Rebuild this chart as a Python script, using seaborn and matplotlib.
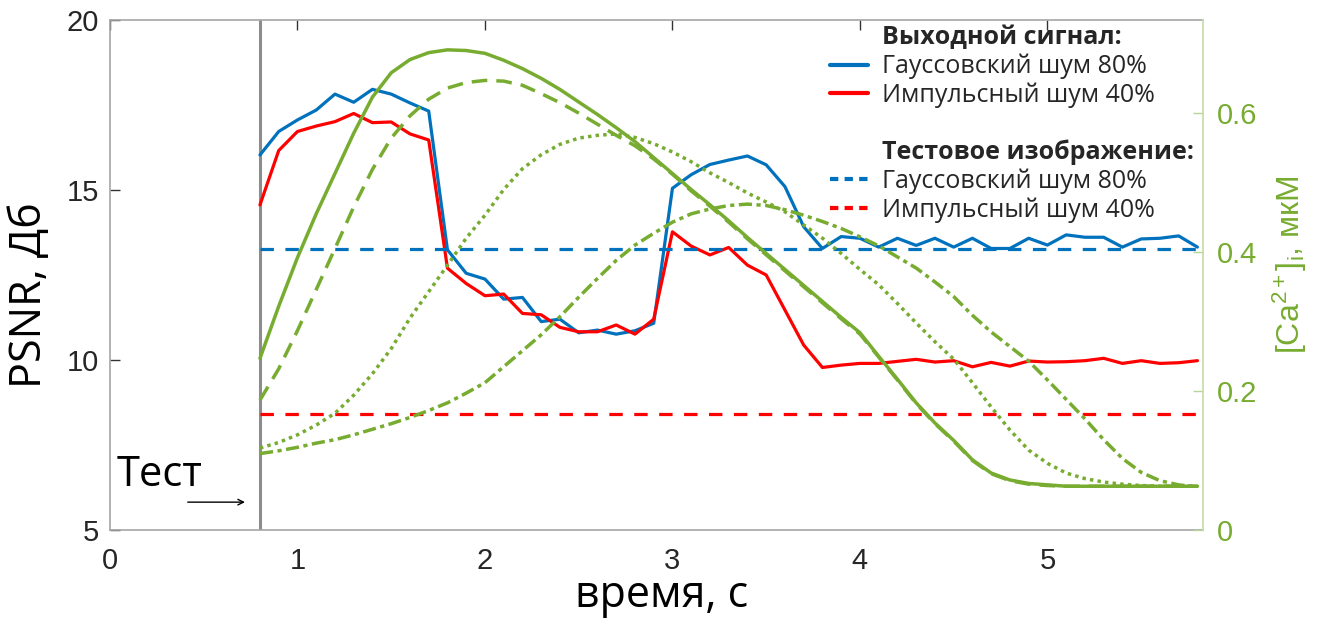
import numpy as np
import pandas as pd
import matplotlib
matplotlib.use("Agg")
import matplotlib.pyplot as plt
import seaborn as sns
from matplotlib.lines import Line2D

# ---------------- data ----------------
time_out = np.round(np.arange(0.8, 5.81, 0.1), 1)
psnr_gauss = [16.03, 16.72, 17.06, 17.35, 17.82, 17.58, 17.96, 17.82, 17.56, 17.32,
              13.24, 12.55, 12.38, 11.79, 11.84, 11.13, 11.20, 10.80, 10.88, 10.76,
              10.86, 11.08, 15.05, 15.45, 15.75, 15.88, 16.00, 15.74, 15.10, 13.92,
              13.28, 13.63, 13.58, 13.32, 13.58, 13.37, 13.58, 13.32, 13.58, 13.28,
              13.28, 13.58, 13.38, 13.68, 13.61, 13.61, 13.32, 13.56, 13.58, 13.65,
              13.32]
psnr_impulse = [14.56, 16.16, 16.72, 16.88, 17.01, 17.25, 16.98, 17.00, 16.65, 16.47,
                12.70, 12.25, 11.89, 11.94, 11.37, 11.33, 10.96, 10.83, 10.83, 11.03,
                10.76, 11.20, 13.77, 13.35, 13.09, 13.31, 12.79, 12.50, 11.47, 10.44,
                9.78, 9.85, 9.90, 9.90, 9.96, 10.02, 9.94, 9.98, 9.80, 9.93,
                9.82, 9.97, 9.94, 9.95, 9.98, 10.05, 9.90, 9.98, 9.90, 9.92,
                9.98]
test_gauss = 13.25
test_impulse = 8.40
test_time = 0.8

time_ca = np.round(np.arange(0.8, 5.81, 0.1), 1)
ca_solid = [0.247, 0.322, 0.392, 0.455, 0.513, 0.571, 0.623, 0.658, 0.677, 0.687,
            0.691, 0.690, 0.686, 0.676, 0.664, 0.650, 0.634, 0.616, 0.598, 0.579,
            0.559, 0.536, 0.513, 0.490, 0.468, 0.445, 0.421, 0.398, 0.375, 0.352,
            0.329, 0.306, 0.284, 0.250, 0.217, 0.183, 0.154, 0.129, 0.101, 0.082,
            0.072, 0.067, 0.065, 0.063, 0.063, 0.063, 0.063, 0.063, 0.063, 0.063,
            0.063]
ca_dashed = [0.187, 0.232, 0.287, 0.346, 0.405, 0.465, 0.519, 0.564, 0.596, 0.620,
             0.636, 0.644, 0.647, 0.646, 0.640, 0.628, 0.615, 0.600, 0.584, 0.568,
             0.553, 0.534, 0.512, 0.488, 0.466, 0.443, 0.419, 0.396, 0.373, 0.350,
             0.327, 0.304, 0.282, 0.249, 0.216, 0.182, 0.153, 0.128, 0.100, 0.081,
             0.071, 0.066, 0.064, 0.063, 0.063, 0.063, 0.063, 0.063, 0.063, 0.063,
             0.063]
ca_dotted = [0.118, 0.126, 0.137, 0.151, 0.168, 0.194, 0.225, 0.261, 0.305, 0.343,
             0.381, 0.420, 0.453, 0.490, 0.520, 0.540, 0.555, 0.564, 0.568, 0.570,
             0.565, 0.556, 0.544, 0.530, 0.514, 0.500, 0.485, 0.472, 0.458, 0.439,
             0.420, 0.398, 0.375, 0.353, 0.326, 0.298, 0.271, 0.246, 0.212, 0.177,
             0.144, 0.115, 0.096, 0.082, 0.074, 0.069, 0.066, 0.064, 0.063, 0.063,
             0.063]
ca_dashdot = [0.110, 0.114, 0.119, 0.125, 0.130, 0.137, 0.145, 0.153, 0.162, 0.172,
              0.183, 0.197, 0.212, 0.235, 0.258, 0.281, 0.307, 0.335, 0.362, 0.388,
              0.410, 0.427, 0.443, 0.455, 0.462, 0.467, 0.469, 0.467, 0.461, 0.453,
              0.444, 0.434, 0.422, 0.409, 0.393, 0.377, 0.357, 0.336, 0.309, 0.285,
              0.264, 0.243, 0.216, 0.188, 0.160, 0.130, 0.103, 0.083, 0.071, 0.065,
              0.062]

x_ticks = [0, 1, 2, 3, 4, 5]
y_ticks = [5, 10, 15, 20]
y2_ticks = [0, 0.2, 0.4, 0.6]
y2_ticklabels = ['0', '0.2', '0.4', '0.6']

# ---------------- style ----------------
sns.set_style("white")
plt.rcParams['font.family'] = ['Liberation Sans', 'DejaVu Sans']
plt.rcParams['mathtext.fontset'] = 'custom'
plt.rcParams['mathtext.rm'] = 'Liberation Sans'
plt.rcParams['mathtext.it'] = 'Liberation Sans:italic'
BLUE = '#0072BD'
RED = '#FF0000'
GREEN = '#77AC30'
TICKC = '#262626'
OPEN = ['Open Sans', 'DejaVu Sans']

fig = plt.figure(figsize=(13.33, 6.24), dpi=100)
ax = fig.add_axes([0.0825, 0.1506, 0.8200, 0.8174])
ax2 = ax.twinx()

xmax = 5.83

# PSNR lines
sns.lineplot(x=time_out, y=psnr_gauss, ax=ax, color=BLUE, linewidth=2.3)
sns.lineplot(x=time_out, y=psnr_impulse, ax=ax, color=RED, linewidth=2.3)
sns.lineplot(x=[test_time, xmax], y=[test_gauss, test_gauss], ax=ax, color=BLUE,
             linewidth=2.3, linestyle=(0, (4.2, 3.6)))
sns.lineplot(x=[test_time, xmax], y=[test_impulse, test_impulse], ax=ax, color=RED,
             linewidth=2.3, linestyle=(0, (4.2, 3.6)))
ax.axvline(test_time, color='#8C8C8C', linewidth=2.2, zorder=1)

# Ca curves
sns.lineplot(x=time_ca, y=ca_solid, ax=ax2, color=GREEN, linewidth=2.5)
sns.lineplot(x=time_ca, y=ca_dashed, ax=ax2, color=GREEN, linewidth=2.5,
             linestyle=(0, (4.5, 2.6)))
sns.lineplot(x=time_ca, y=ca_dotted, ax=ax2, color=GREEN, linewidth=2.5,
             linestyle=(0, (1, 1.2)))
sns.lineplot(x=time_ca, y=ca_dashdot, ax=ax2, color=GREEN, linewidth=2.5,
             linestyle=(0, (3.8, 1.3, 1.2, 1.3)))

ax.set_xlim(0, xmax)
ax.set_ylim(5, 20)
ax2.set_ylim(0, 0.734)
ax.set_xticks(x_ticks)
ax.set_yticks(y_ticks)
ax2.set_yticks(y2_ticks)
ax2.set_yticklabels(y2_ticklabels)

for sp in ax.spines.values():
    sp.set_color('#A6A6A6')
    sp.set_linewidth(1.2)
for sp in ax2.spines.values():
    sp.set_visible(False)
ax2.spines['right'].set_visible(True)
ax2.spines['right'].set_color('#C4DDA6')
ax2.spines['right'].set_linewidth(1.2)
ax.spines['right'].set_visible(False)

ax.tick_params(axis='both', direction='in', length=7, width=1, color='#333333',
               labelsize=21, labelcolor=TICKC, top=True)
ax.tick_params(axis='x', pad=12)
ax.tick_params(axis='y', pad=8)
ax2.tick_params(axis='y', direction='in', length=7, width=1, color='#B9D69A',
                labelsize=21, labelcolor=GREEN, pad=10)

ax.set_xlabel('время, с', fontsize=31, family=OPEN, color='black')
ax.xaxis.set_label_coords(0.505, -0.085)
ax.set_ylabel('PSNR, Дб', fontsize=31, family=OPEN, color='black')
ax.yaxis.set_label_coords(-0.053, 0.46)
ax2.set_ylabel(r'[Ca$^{2+}$]$_{\mathrm{i}}$, мкМ', fontsize=23, color=GREEN)
ax2.yaxis.set_label_coords(1.062, 0.52)

# Test annotation
ax.text(0.035, 6.62, 'Тест', fontsize=30, family=OPEN,
        va='center', ha='left', color='black')
ax.annotate('', xy=(0.735, 5.82), xytext=(0.40, 5.82),
            arrowprops=dict(arrowstyle='->', color='black', lw=1.0))

# Legend
blank = Line2D([], [], linestyle='none')
handles = [blank,
           Line2D([], [], color=BLUE, lw=3),
           Line2D([], [], color=RED, lw=3),
           blank, blank,
           Line2D([], [], color=BLUE, lw=3, linestyle=(0, (2, 1.5))),
           Line2D([], [], color=RED, lw=3, linestyle=(0, (2, 1.5)))]
labels = ['Выходной сигнал:', 'Гауссовский шум 80%', 'Импульсный шум 40%', ' ',
          'Тестовое изображение:', 'Гауссовский шум 80%', 'Импульсный шум 40%']
leg = fig.legend(handles, labels, loc='upper left',
                 bbox_to_anchor=(812 / 1333, 1 - 8 / 624),
                 frameon=False, prop={'family': OPEN, 'size': 18},
                 handlelength=1.55, handletextpad=0.55, labelspacing=0.13,
                 borderpad=0.2)
for i, t in enumerate(leg.get_texts()):
    if i in (0, 4):
        t.set_fontweight('bold')

fig.savefig('out.png', dpi=100)
